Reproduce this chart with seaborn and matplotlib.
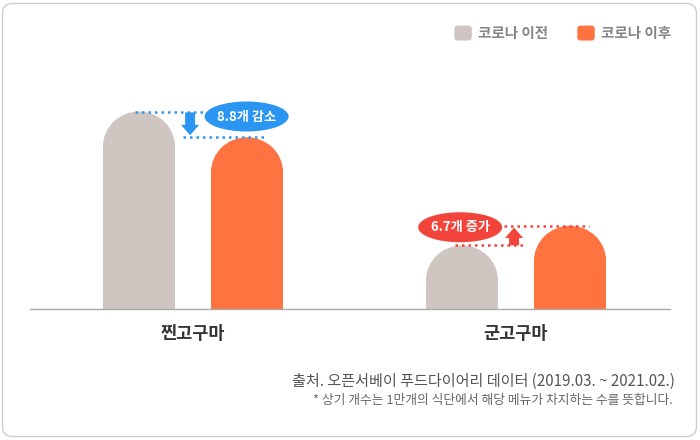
import pandas as pd
import seaborn as sns
import matplotlib.pyplot as plt
from matplotlib.patches import Ellipse, FancyBboxPatch
from matplotlib.legend_handler import HandlerPatch
from matplotlib.transforms import IdentityTransform

# data
menus = ['찐고구마', '군고구마']
periods = ['코로나 이전', '코로나 이후']
before = [67.5, 21.8]
after = [58.7, 28.5]
change_labels = ['8.8개 감소', '6.7개 증가']

colors = ['#cfc5c1', '#ff7340']
blue = '#2b96f2'
red = '#f2443a'

df = pd.DataFrame({
    '메뉴': menus * 2,
    '시기': [periods[0]] * 2 + [periods[1]] * 2,
    '개수': before + after,
})

sns.set_style('white')
plt.rcParams['font.family'] = ['Noto Sans CJK KR', 'DejaVu Sans']

fig = plt.figure(figsize=(7, 4.4), dpi=100)
ax = fig.add_axes([30 / 700, (440 - 309.3) / 440, 640 / 700, 269.3 / 440])

sns.barplot(data=df, x='메뉴', y='개수', hue='시기', palette=colors,
            saturation=1, width=0.669, gap=0.333, errorbar=None, ax=ax,
            linewidth=0)

ax.set_xlim(-163 / 323, 1 + 154 / 323)
ax.set_ylim(0, 269.3 / 2.93)

# pixel -> data helpers
def px_x(p):
    return p / (ax.transData.transform((1, 0))[0] - ax.transData.transform((0, 0))[0])

def px_y(p):
    return p / (ax.transData.transform((0, 1))[1] - ax.transData.transform((0, 0))[1])

# rounded bar tops
ry = px_y(35)
for cont in ax.containers:
    for bar in cont:
        x, w, h = bar.get_x(), bar.get_width(), bar.get_height()
        bar.set_height(h - ry)
        ax.add_patch(Ellipse((x + w / 2, h - ry), w, 2 * ry,
                             facecolor=bar.get_facecolor(), edgecolor='none'))

dot = (0, (1, 1.6))

def pill(xc, yc, text, color):
    ax.add_patch(Ellipse((xc, yc), px_x(84), px_y(30), facecolor=color,
                         edgecolor='none', zorder=5))
    ax.text(xc, yc, text, ha='center', va='center', color='white',
            fontsize=9.5, fontweight='bold', zorder=6)

arrow_style = 'simple,head_length=0.75,head_width=1.3,tail_width=0.72'

# 찐고구마: decrease
b, a = before[0], after[0]
ax.plot([-0.18, 0.043], [b, b], color=blue, lw=1.8, ls=dot)
ax.plot([-0.031, 0.229], [a, a], color=blue, lw=1.8, ls=dot)
ax.annotate('', xy=(-0.009, a + 0.7), xytext=(-0.009, b - 0.3),
            arrowprops=dict(arrowstyle=arrow_style, mutation_scale=10,
                            color=blue, shrinkA=0, shrinkB=0, lw=0))
pill(0.166, b - 1.7, change_labels[0], blue)

# 군고구마: increase
b, a = before[1], after[1]
ax.plot([1 - 0.189, 1 + 0.028], [b, b], color=red, lw=1.8, ls=dot)
ax.plot([1 - 0.037, 1 + 0.226], [a, a], color=red, lw=1.8, ls=dot)
ax.annotate('', xy=(1 - 0.006, a - 0.6), xytext=(1 - 0.006, b),
            arrowprops=dict(arrowstyle=arrow_style, mutation_scale=10,
                            color=red, shrinkA=0, shrinkB=0, lw=0))
pill(1 - 0.173, a - 0.5, change_labels[1], red)

# axes styling
sns.despine(ax=ax, left=True)
ax.spines['bottom'].set_color('#aaaaaa')
ax.spines['bottom'].set_linewidth(1)
ax.set_yticks([])
ax.set_xlabel('')
ax.set_ylabel('')
ax.tick_params(axis='x', length=0, pad=11)
for lab in ax.get_xticklabels():
    lab.set_fontsize(12.6)
    lab.set_fontweight('bold')
    lab.set_color('#333333')

# legend with rounded squares
class RoundHandler(HandlerPatch):
    def create_artists(self, legend, orig_handle, xdescent, ydescent,
                       width, height, fontsize, trans):
        p = FancyBboxPatch((-xdescent, -ydescent), width, height,
                           boxstyle='round,pad=0,rounding_size=2.5',
                           facecolor=orig_handle.get_facecolor(),
                           edgecolor='none', transform=trans)
        return [p]

handles, labels = ax.get_legend_handles_labels()
ax.legend(handles, labels, ncol=2, loc='upper right',
          bbox_to_anchor=(671 / 700, 1 - 25 / 440),
          bbox_transform=fig.transFigure, frameon=False,
          handlelength=1.2, handleheight=1.2, handletextpad=0.42,
          columnspacing=2.0, borderpad=0, borderaxespad=0,
          handler_map={h: RoundHandler() for h in handles},
          prop={'size': 10.5, 'weight': 'bold'}, labelcolor='#858585')

# source notes
fig.text(675 / 700, 1 - 381 / 440,
         '출처. 오픈서베이 푸드다이어리 데이터 (2019.03. ~ 2021.02.)',
         ha='right', va='center', fontsize=10.9, color='#555555')
fig.text(673 / 700, 1 - 400 / 440,
         '* 상기 개수는 1만개의 식단에서 해당 메뉴가 차지하는 수를 뜻합니다.',
         ha='right', va='center', fontsize=9.2, color='#666666')

# outer rounded frame
fig.patches.append(FancyBboxPatch((2.5, 3.5), 694, 433,
                                  boxstyle='round,pad=0,rounding_size=10',
                                  transform=IdentityTransform(),
                                  facecolor='none', edgecolor='#cccccc', lw=1))

fig.savefig('out.png', dpi=100)
